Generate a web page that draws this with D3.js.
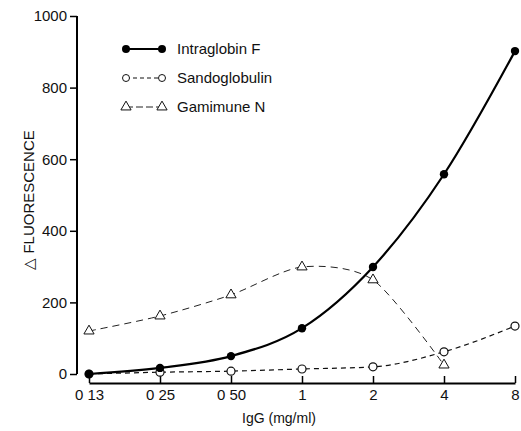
<!DOCTYPE html>
<html><head><meta charset="utf-8">
<script src="https://cdn.jsdelivr.net/npm/d3@7/dist/d3.min.js"></script>
<style>body{margin:0;background:#fff}svg{display:block}text{font-family:"Liberation Sans",Arial,sans-serif;fill:#111}</style>
</head><body><svg id="c" width="521" height="431"></svg>
<script>
const doses = [0.125, 0.25, 0.5, 1, 2, 4, 8];
const doseLabels = ["0 13", "0 25", "0 50", "1", "2", "4", "8"];
const yTicks = [0, 200, 400, 600, 800, 1000];
const intraglobin = [0, 17, 50, 128, 299, 558, 902];
const sandoglobulin = [0, 5, 8, 14, 20, 62, 134];
const gamimune = [120, 162, 221, 299, 263, 25];
const seriesNames = ["Intraglobin F", "Sandoglobulin", "Gamimune N"];

const svg = d3.select("#c");
const x = d3.scaleLog().base(2).domain([0.125, 8]).range([89, 515]);
const y = d3.scaleLinear().domain([0, 1000]).range([374, 16]);

// Y axis
const yAxis = d3.axisLeft(y).tickValues(yTicks).tickSize(7).tickPadding(3).tickFormat(d3.format("d"));
const gy = svg.append("g").attr("transform", "translate(77,0)").call(yAxis);
gy.select(".domain").attr("d", `M0,${y(1000)}V${y(0)}`).attr("stroke-width", 2);
gy.selectAll(".tick line").attr("stroke-width", 1.5);
gy.selectAll("text").style("font-size", "15px").attr("fill", "#111");

// X axis (offset below zero line, ticks upward)
const xAxis = d3.axisBottom(x).tickValues(doses).tickSizeInner(-7).tickSizeOuter(0).tickPadding(6)
  .tickFormat((d, i) => doseLabels[i]);
const gx = svg.append("g").attr("transform", "translate(0,383)").call(xAxis);
gx.select(".domain").attr("stroke-width", 2);
gx.selectAll(".tick line").attr("stroke-width", 1.5);
gx.selectAll("text").style("font-size", "15px").attr("fill", "#111");

// Axis titles
svg.append("text").attr("x", 279).attr("y", 423).attr("text-anchor", "middle")
  .style("font-size", "14px").text("IgG (mg/ml)");
svg.append("text").attr("transform", "translate(34,200) rotate(-90)").attr("text-anchor", "middle")
  .style("font-size", "15px").text("\u25B3 FLUORESCENCE");

// Lines
const lineI = d3.line().x((d, i) => x(doses[i])).y(d => y(d)).curve(d3.curveMonotoneX);
const lineS = d3.line().x((d, i) => x(doses[i])).y(d => y(d)).curve(d3.curveMonotoneX);
const lineG = d3.line().x((d, i) => x(doses[i])).y(d => y(d)).curve(d3.curveCardinal.tension(0.2));

svg.append("path").datum(gamimune).attr("d", lineG).attr("fill", "none")
  .attr("stroke", "#222").attr("stroke-width", 1).attr("stroke-dasharray", "7,5");
svg.append("path").datum(sandoglobulin).attr("d", lineS).attr("fill", "none")
  .attr("stroke", "#111").attr("stroke-width", 1.2).attr("stroke-dasharray", "5,4");
svg.append("path").datum(intraglobin).attr("d", lineI).attr("fill", "none")
  .attr("stroke", "#000").attr("stroke-width", 2.2);

// Markers
const tri = d3.symbol().type(d3.symbolTriangle).size(45);
svg.append("g").selectAll("path").data(gamimune).join("path")
  .attr("transform", (d, i) => `translate(${x(doses[i])},${y(d)})`)
  .attr("d", tri).attr("fill", "#fff").attr("stroke", "#111").attr("stroke-width", 1);
svg.append("g").selectAll("circle").data(sandoglobulin).join("circle")
  .attr("cx", (d, i) => x(doses[i])).attr("cy", d => y(d)).attr("r", 4)
  .attr("fill", "#fff").attr("stroke", "#111").attr("stroke-width", 1.2);
svg.append("g").selectAll("circle").data(intraglobin).join("circle")
  .attr("cx", (d, i) => x(doses[i])).attr("cy", d => y(d)).attr("r", 4.2)
  .attr("fill", "#000");

// Legend
const lg = svg.append("g");
const rows = [49, 78, 107];
const lx0 = 126, lx1 = 162;
lg.append("line").attr("x1", lx0).attr("x2", lx1).attr("y1", rows[0]).attr("y2", rows[0]).attr("stroke", "#000").attr("stroke-width", 2);
[lx0, lx1].forEach(cx => lg.append("circle").attr("cx", cx).attr("cy", rows[0]).attr("r", 4).attr("fill", "#000"));
lg.append("line").attr("x1", lx0).attr("x2", lx1).attr("y1", rows[1]).attr("y2", rows[1]).attr("stroke", "#111").attr("stroke-width", 1.2).attr("stroke-dasharray", "4,3");
[lx0, lx1].forEach(cx => lg.append("circle").attr("cx", cx).attr("cy", rows[1]).attr("r", 3.5).attr("fill", "#fff").attr("stroke", "#111"));
lg.append("line").attr("x1", lx0).attr("x2", lx1).attr("y1", rows[2]).attr("y2", rows[2]).attr("stroke", "#222").attr("stroke-width", 1).attr("stroke-dasharray", "7,3");
[lx0, lx1].forEach(cx => lg.append("path").attr("transform", `translate(${cx},${rows[2]})`).attr("d", tri).attr("fill", "#fff").attr("stroke", "#111"));
seriesNames.forEach((n, i) => lg.append("text").attr("x", 177).attr("y", rows[i] + 5)
  .style("font-size", "15px").text(n));
</script></body></html>
